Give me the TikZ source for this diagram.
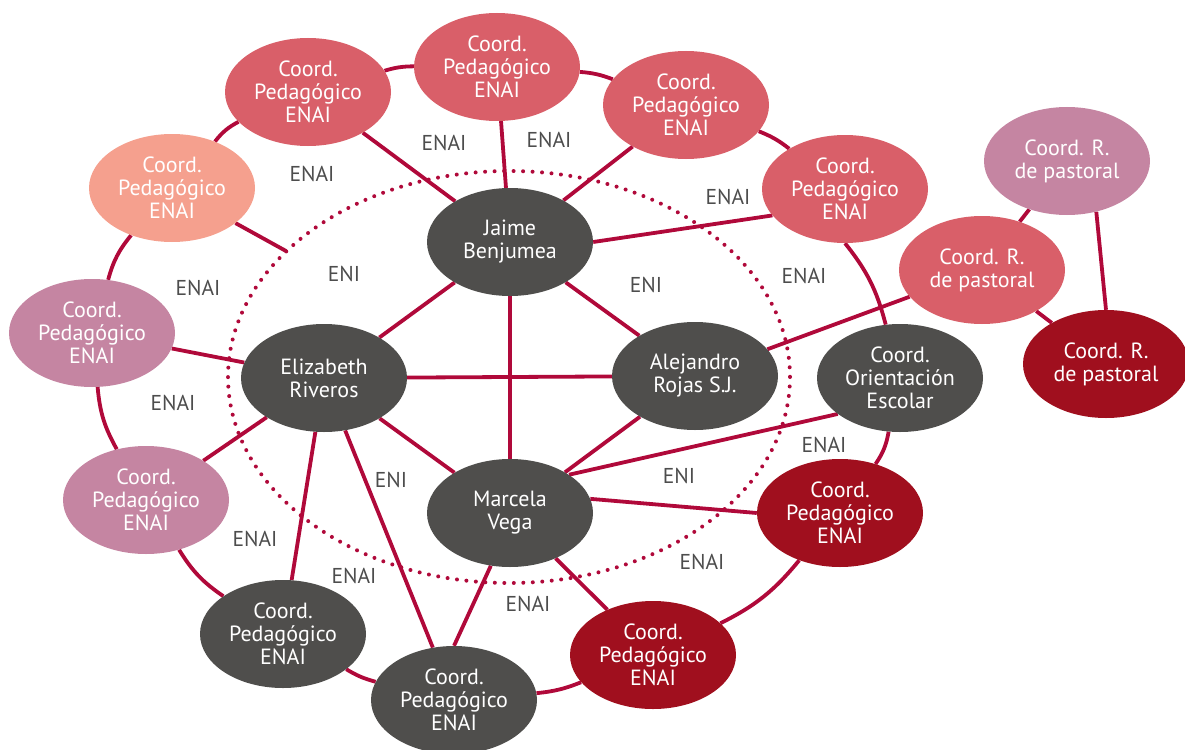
\documentclass[tikz,border=0pt]{standalone}
\usepackage{fontspec}
\setmainfont{PT Sans}
\usetikzlibrary{shapes.geometric,backgrounds}
\definecolor{rojo}{HTML}{D95F69}
\definecolor{durazno}{HTML}{F5A08E}
\definecolor{malva}{HTML}{C585A2}
\definecolor{gris}{HTML}{4F4E4C}
\definecolor{vino}{HTML}{A00F1E}
\definecolor{linea}{HTML}{B0093A}
\definecolor{texto}{HTML}{4D4D4D}
\tikzset{
  burbuja/.style={ellipse, fill=#1, text=white, minimum width=166pt,
    minimum height=108pt, inner sep=0pt, align=center,
    font=\fontsize{22}{23}\selectfont},
  enlace/.style={draw=linea, line width=3.8pt},
  etiq/.style={text=texto, font=\fontsize{21.5}{22}\selectfont},
}
\begin{document}
\begin{tikzpicture}[x=1pt,y=-1pt]
  \useasboundingbox (0,0) rectangle (1185,749);
  % anillo exterior
  \node[burbuja=rojo] (pedA) at (308,92) {Coord.\\Pedagógico\\ENAI};
  \node[burbuja=rojo] (pedB) at (497,67) {Coord.\\Pedagógico\\ENAI};
  \node[burbuja=rojo] (pedC) at (686,105) {Coord.\\Pedagógico\\ENAI};
  \node[burbuja=rojo] (pedD) at (845,189) {Coord.\\Pedagógico\\ENAI};
  \node[burbuja=durazno] (pedE) at (172,188) {Coord.\\Pedagógico\\ENAI};
  \node[burbuja=malva] (pedF) at (92,333) {Coord.\\Pedagógico\\ENAI};
  \node[burbuja=malva] (pedG) at (146,500) {Coord.\\Pedagógico\\ENAI};
  \node[burbuja=gris] (pedH) at (283,634) {Coord.\\Pedagógico\\ENAI};
  \node[burbuja=gris] (pedI) at (454,700) {Coord.\\Pedagógico\\ENAI};
  \node[burbuja=vino] (pedJ) at (653,655) {Coord.\\Pedagógico\\ENAI};
  \node[burbuja=vino] (pedK) at (840,513) {Coord.\\Pedagógico\\ENAI};
  \node[burbuja=gris] (orient) at (900,378) {Coord.\\Orientación\\Escolar};
  % pastoral
  \node[burbuja=malva] (pasM) at (1067,161) {Coord. R.\\de pastoral};
  \node[burbuja=rojo] (pasN) at (982,270) {Coord. R.\\de pastoral};
  \node[burbuja=vino] (pasO) at (1106,364) {Coord. R.\\de pastoral};
  % centro
  \node[burbuja=gris] (jaime) at (510,242) {Jaime\\Benjumea};
  \node[burbuja=gris] (eliz) at (324,378) {Elizabeth\\Riveros};
  \node[burbuja=gris] (alej) at (695,376) {Alejandro\\Rojas S.J.};
  \node[burbuja=gris] (marce) at (510,513) {Marcela\\Vega};
  \coordinate (bordeE) at (286,251);
  % etiquetas
  \node[etiq] at (444,143) {ENAI};
  \node[etiq] at (549,140) {ENAI};
  \node[etiq] at (312,174) {ENAI};
  \node[etiq] at (728,197) {ENAI};
  \node[etiq] at (198,288) {ENAI};
  \node[etiq] at (804,276) {ENAI};
  \node[etiq] at (173,403) {ENAI};
  \node[etiq] at (824,445) {ENAI};
  \node[etiq] at (255,539) {ENAI};
  \node[etiq] at (354,576) {ENAI};
  \node[etiq] at (528,604) {ENAI};
  \node[etiq] at (702,562) {ENAI};
  \node[etiq] at (344,274) {ENI};
  \node[etiq] at (646,285) {ENI};
  \node[etiq] at (391,480) {ENI};
  \node[etiq] at (679,476) {ENI};
  \begin{scope}[on background layer]
    \draw[linea, line width=4pt, line cap=round, dash pattern=on 0pt off 9.5pt]
      (509,377) ellipse [x radius=281, y radius=206];
    \begin{scope}[enlace]
      \draw (pedE) to[bend left=12] (pedA);
      \draw (pedA) to[bend left=8] (pedB);
      \draw (pedB) to[bend left=8] (pedC);
      \draw (pedC) to[bend left=8] (pedD);
      \draw (pedD.south) to[bend left=12] (orient.105);
      \draw (orient) to[bend left=12] (pedK);
      \draw (pedK) to[bend left=12] (pedJ);
      \draw (pedJ) to[bend left=8] (pedI);
      \draw (pedI) to[bend left=8] (pedH);
      \draw (pedH) to[bend left=12] (pedG);
      \draw (pedG) to[bend left=12] (pedF);
      \draw (pedF) to[bend left=12] (pedE);
      \draw (pedA) -- (jaime);
      \draw (pedB) -- (jaime);
      \draw (pedC) -- (jaime);
      \draw (jaime.east) -- (pedD.200);
      \draw (pedE) -- (bordeE);
      \draw (pedF) -- (eliz);
      \draw (pedG) -- (eliz);
      \draw (pedH) -- (eliz);
      \draw (pedI) -- (eliz);
      \draw (pedI.north) -- (marce.250);
      \draw (pedJ) -- (marce);
      \draw (marce.10) -- (pedK.west);
      \draw (marce.33) -- (orient.210);
      \draw (jaime) -- (eliz);
      \draw (jaime) -- (alej);
      \draw (jaime) -- (marce);
      \draw (eliz) -- (alej);
      \draw (eliz) -- (marce);
      \draw (alej) -- (marce);
      \draw (pasN) -- (alej);
      \draw (pasM) -- (pasN);
      \draw (pasM.300) -- (pasO.north);
      \draw (pasN) -- (pasO);
    \end{scope}
  \end{scope}
\end{tikzpicture}
\end{document}
